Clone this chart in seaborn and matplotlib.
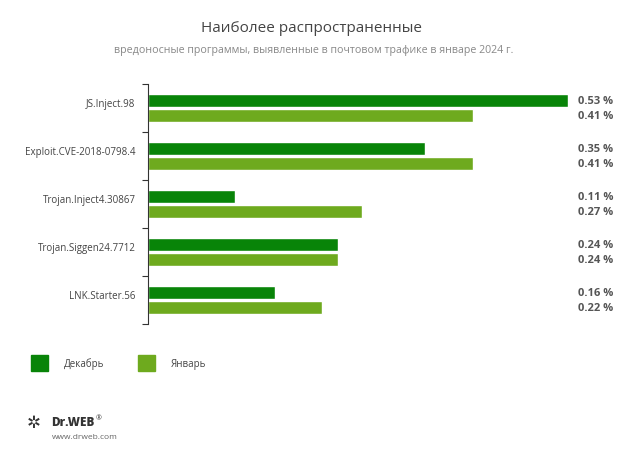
import matplotlib
matplotlib.use("Agg")
import matplotlib.pyplot as plt
import matplotlib.transforms as mtransforms
import seaborn as sns
import pandas as pd
import numpy as np
from matplotlib.patches import Rectangle

categories = ["JS.Inject.98", "Exploit.CVE-2018-0798.4", "Trojan.Inject4.30867",
              "Trojan.Siggen24.7712", "LNK.Starter.56"]
december = [0.53, 0.35, 0.11, 0.24, 0.16]
january = [0.41, 0.41, 0.27, 0.24, 0.22]
series_names = ["Декабрь", "Январь"]
colors = ["#088408", "#6eaa1e"]

title = "Наиболее распространенные"
subtitle = "вредоносные программы, выявленные в почтовом трафике в январе 2024 г."

sns.set_theme(style="white")
plt.rcParams['font.family'] = ['Open Sans', 'DejaVu Sans']

df = pd.DataFrame({
    "cat": categories * 2,
    "val": december + january,
    "series": [series_names[0]] * len(categories) + [series_names[1]] * len(categories),
})

fig = plt.figure(figsize=(6.2, 4.56), dpi=100)
ax = fig.add_axes([148 / 620, 1 - 325 / 456, (568 - 148) / 620, (325 - 85) / 456])

sns.barplot(data=df, y="cat", x="val", hue="series", palette=colors, orient="h",
            width=0.62, gap=0.12, ax=ax, legend=False, saturation=1)

ax.set_xlim(0, 0.53)
ax.set_ylim(4.5, -0.5)
ax.set_xlabel("")
ax.set_ylabel("")
ax.set_xticks([])
for s in ["top", "right", "bottom"]:
    ax.spines[s].set_visible(False)
ax.spines["left"].set_color("#333333")
ax.spines["left"].set_linewidth(0.8)
ax.set_yticks(np.arange(len(categories)) - 0.12)
ax.set_yticklabels(categories, fontsize=7, color="#444444")
ax.tick_params(axis="y", which="major", length=0, pad=9)
ax.set_yticks(np.arange(-0.5, len(categories), 1), minor=True)
ax.tick_params(axis="y", which="minor", length=4, width=0.8, color="#333333", left=True)

# value labels
tr = mtransforms.blended_transform_factory(fig.transFigure, ax.transData)
for container, vals in zip(ax.containers, [december, january]):
    for bar, v in zip(container, vals):
        y = bar.get_y() + bar.get_height() / 2
        ax.text(578 / 620, y, f"{v:.2f} %", transform=tr,
                va="center", ha="left", fontsize=8, color="#555555", fontweight="bold")

# titles
fig.text(312 / 620, 1 - 29 / 456, title, ha="center", va="center", fontsize=11, color="#444444")
fig.text(314 / 620, 1 - 50 / 456, subtitle, ha="center", va="center", fontsize=7.7, color="#888888")

# legend
for i, (name, c) in enumerate(zip(series_names, colors)):
    x0 = [31, 138][i]
    fig.patches.append(Rectangle((x0 / 620, 1 - 372 / 456), 17 / 620, 16 / 456,
                                 transform=fig.transFigure, color=c, figure=fig))
    fig.text((x0 + 33) / 620, 1 - 364 / 456, name, ha="left", va="center",
             fontsize=7, color="#444444")

# logo
fig.text(51 / 620, 1 - 423 / 456, "Dr.WEB", ha="left", va="center", fontsize=8.5,
         fontweight="heavy", color="#333333")
fig.text(96 / 620, 1 - 419 / 456, "®", ha="left", va="center", fontsize=5, color="#333333")
fig.text(27 / 620, 1 - 423 / 456, "✲", ha="left", va="center", fontsize=12, color="#333333",
         family=["DejaVu Sans"])
fig.text(52 / 620, 1 - 438 / 456, "www.drweb.com", ha="left", va="center", fontsize=6,
         color="#666666")

fig.savefig("out.png", dpi=100)
